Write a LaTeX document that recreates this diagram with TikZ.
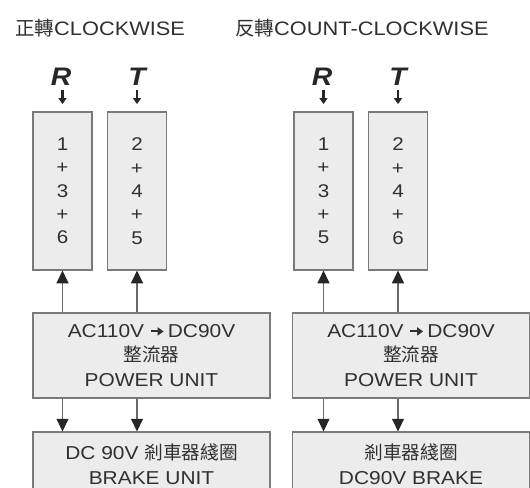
\documentclass[tikz,border=0pt]{standalone}
\usepackage{fontspec}
\setmainfont{Liberation Sans}[FakeStretch=1.12]
\newfontfamily\cjk{Noto Sans CJK TC}
\usetikzlibrary{arrows.meta}
\definecolor{txt}{HTML}{303030}
\definecolor{boxfill}{HTML}{ECECEC}
\definecolor{boxline}{HTML}{7A7A7A}
\definecolor{shaft}{HTML}{6A6A6A}
\tikzset{
  numbox/.style={draw=boxline, fill=boxfill, line width=0.9pt, minimum width=59*0.75pt, minimum height=158*0.75pt, inner sep=0pt, align=center, text=txt, font=\fontsize{13.8pt}{17.5pt}\selectfont},
  widebox/.style={draw=boxline, fill=boxfill, line width=0.9pt, minimum width=237*0.75pt, inner sep=0pt, align=center, text=txt, font=\fontsize{14pt}{18pt}\selectfont},
  titletxt/.style={anchor=base west, inner sep=0pt, text=txt, font=\fontsize{14.6pt}{16pt}\selectfont},
  phase/.style={anchor=base, inner sep=0pt, text=black!85, font=\fontsize{19pt}{20pt}\selectfont\bfseries\itshape},
  inarrow/.style={line width=2.2pt, draw=black!85, -{Triangle[length=4.5pt,width=6pt]}, shorten <=3.5pt, shorten >=5.5pt},
  flow/.style={line width=1pt, draw=shaft, -{Triangle[length=9.5pt,width=9pt,color=black!85,fill=black!85]}}
}
\newcommand{\smallarr}{\tikz[baseline=-0.6ex]\draw[line width=1.6pt, txt, -{Triangle[length=4.5pt,width=6pt]}] (0,0) -- (9.5pt,0);}
\begin{document}
\begin{tikzpicture}[x=0.75pt, y=-0.75pt]
\clip (0,0) rectangle (530,487);
\fill[white] (0,0) rectangle (530,487);
% titles
\node[titletxt] (t1) at (15,35) {{\cjk 正轉}CLOCKWISE};
\node[titletxt] (t2) at (235,35) {{\cjk 反轉}COUNT-CLOCKWISE};
% left panel
\node[phase] (r1) at (61,85) {R};
\node[phase] (s1) at (137,85) {T};
\node[numbox] (a1) at (62.5,191) {1\\+\\3\\+\\6};
\node[numbox] (a2) at (137,191) {2\\+\\4\\+\\5};
\node[widebox, minimum height=85*0.75pt] (p1) at (151.5,355.5) {AC110V \smallarr\,DC90V\\[0.3pt]{\cjk 整流器}\\[0.6pt]POWER UNIT};
\node[widebox, minimum height=64*0.75pt] (k1) at (151.5,464) {DC 90V {\cjk 剎車器綫圈}\\[0.5pt]BRAKE UNIT};
% right panel
\node[phase] (r2) at (322,85) {R};
\node[phase] (s2) at (398,85) {T};
\node[numbox] (b1) at (323.5,191) {1\\+\\3\\+\\5};
\node[numbox] (b2) at (398,191) {2\\+\\4\\+\\6};
\node[widebox, minimum height=85*0.75pt] (p2) at (411,355.5) {AC110V \smallarr\,DC90V\\[0.3pt]{\cjk 整流器}\\[0.6pt]POWER UNIT};
\node[widebox, minimum height=64*0.75pt] (k2) at (411,464) {{\cjk 剎車器綫圈}\\[0.5pt]DC90V BRAKE};
% input arrows
\draw[inarrow] (r1.south -| a1) -- (a1.north);
\draw[inarrow] (s1.south -| a2) -- (a2.north);
\draw[inarrow] (r2.south -| b1) -- (b1.north);
\draw[inarrow] (s2.south -| b2) -- (b2.north);
% power to contacts
\draw[flow] (a1.south |- p1.north) -- (a1.south);
\draw[flow] (a2.south |- p1.north) -- (a2.south);
\draw[flow] (b1.south |- p2.north) -- (b1.south);
\draw[flow] (b2.south |- p2.north) -- (b2.south);
% power to brake
\draw[flow] (a1.south |- p1.south) -- (a1.south |- k1.north);
\draw[flow] (a2.south |- p1.south) -- (a2.south |- k1.north);
\draw[flow] (b1.south |- p2.south) -- (b1.south |- k2.north);
\draw[flow] (b2.south |- p2.south) -- (b2.south |- k2.north);
\end{tikzpicture}
\end{document}
